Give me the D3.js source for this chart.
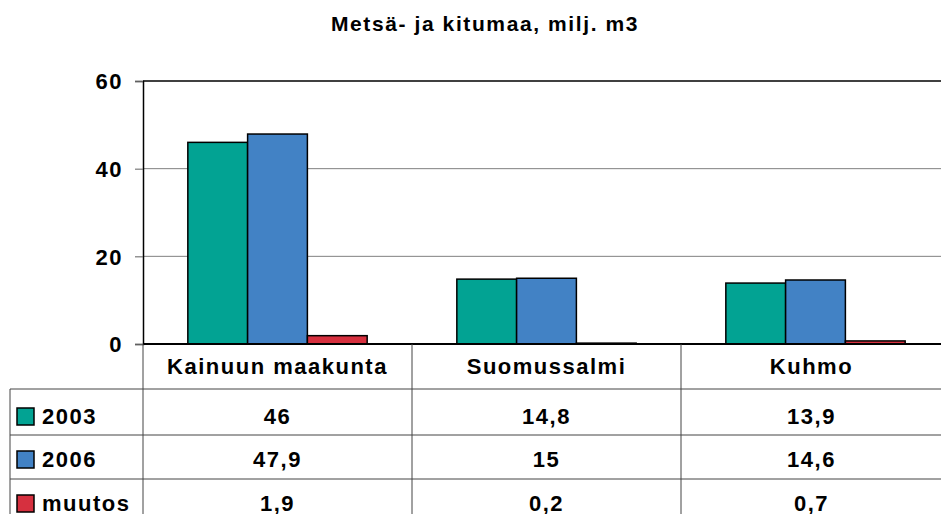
<!DOCTYPE html>
<html>
<head>
<meta charset="utf-8">
<script src="https://cdn.jsdelivr.net/npm/d3@7"></script>
<style>
  body { margin: 0; background: #fff; }
  svg text { font-family: "Liberation Sans", Arial, sans-serif; font-weight: bold; fill: #000; }
</style>
</head>
<body>
<div id="kuvio"></div>
<script>
const alueet = ["Kainuun maakunta", "Suomussalmi", "Kuhmo"];
const sarjat = ["2003", "2006", "muutos"];
const v2003 = [46, 14.8, 13.9];
const v2006 = [47.9, 15, 14.6];
const muutos = [1.9, 0.2, 0.7];
const arvoTekstit = [["46", "14,8", "13,9"], ["47,9", "15", "14,6"], ["1,9", "0,2", "0,7"]];
const tikit = [0, 20, 40, 60];
const värit = ["#02a393", "#4282c5", "#d6303f"];

const leveys = 941, korkeus = 514;
const ala = {vasen: 143, oikea: 950, ylä: 81, pohja: 344};

const svg = d3.select("#kuvio").append("svg")
  .attr("width", leveys).attr("height", korkeus);

const arvot = [v2003, v2006, muutos];

const x = d3.scaleBand().domain(alueet).range([ala.vasen, ala.oikea]).paddingInner(0).paddingOuter(0);
const xs = d3.scaleBand().domain(sarjat).range([0, x.bandwidth()]).paddingOuter(0.75).paddingInner(0);
const y = d3.scaleLinear().domain([0, 60]).range([ala.pohja, ala.ylä]);

function tyyli(t, koko, väli) {
  return t.style("font-size", koko + "px").style("letter-spacing", väli + "px");
}

tyyli(svg.append("text").attr("x", 485).attr("y", 31).attr("text-anchor", "middle"), 21, 1.6)
  .text("Metsä- ja kitumaa, milj. m3");

// ruudukko
svg.append("g").selectAll("line").data(tikit.filter(t => t > 0 && t < 60)).enter().append("line")
  .attr("x1", ala.vasen).attr("x2", leveys).attr("y1", d => y(d)).attr("y2", d => y(d))
  .attr("stroke", "#808080").attr("stroke-width", 1);
svg.append("line").attr("x1", ala.vasen).attr("x2", leveys).attr("y1", y(60)).attr("y2", y(60))
  .attr("stroke", "#000").attr("stroke-width", 1.5);

// y-akseli
const yAks = svg.append("g").attr("transform", `translate(${ala.vasen},0)`)
  .call(d3.axisLeft(y).tickValues(tikit).tickSize(8).tickPadding(12));
yAks.select(".domain").attr("stroke", "#000").attr("stroke-width", 1.5);
yAks.selectAll(".tick line").attr("stroke", "#606060");
yAks.selectAll(".tick text").attr("dy", "0.36em")
  .style("font-size", "22px").style("letter-spacing", "1.5px")
  .style("font-family", "Liberation Sans, Arial, sans-serif").attr("font-weight", "bold");

// pylväät
const ryhmä = svg.append("g").selectAll("g").data(alueet).enter().append("g")
  .attr("transform", d => `translate(${x(d)},0)`);
ryhmä.selectAll("rect").data((d, i) => sarjat.map((s, j) => ({s: s, v: arvot[j][i], c: värit[j]})))
  .enter().append("rect")
  .attr("x", d => xs(d.s)).attr("width", xs.bandwidth())
  .attr("y", d => y(d.v)).attr("height", d => y(0) - y(d.v))
  .attr("fill", d => d.c).attr("stroke", "#000").attr("stroke-width", 1.5);

svg.append("line").attr("x1", ala.vasen).attr("x2", leveys).attr("y1", y(0)).attr("y2", y(0))
  .attr("stroke", "#000").attr("stroke-width", 2);

// taulukko
const rivit = [389, 435, 479, 530];
const perusviiva = [424, 467, 511];
const taulu = svg.append("g");
taulu.selectAll("line.vaaka").data(rivit.slice(0, 3)).enter().append("line")
  .attr("x1", 10).attr("x2", leveys).attr("y1", d => d).attr("y2", d => d)
  .attr("stroke", "#444").attr("stroke-width", 1);
taulu.append("line").attr("x1", 10).attr("x2", 10).attr("y1", rivit[0]).attr("y2", korkeus)
  .attr("stroke", "#444");
taulu.selectAll("line.pysty").data(alueet).enter().append("line")
  .attr("x1", d => x(d)).attr("x2", d => x(d)).attr("y1", ala.pohja).attr("y2", korkeus)
  .attr("stroke", "#444");

const keski = d => x(d) + x.bandwidth() / 2 - (d === "Kuhmo" ? 4 : 0);

tyyli(taulu.selectAll("text.alue").data(alueet).enter().append("text")
  .attr("x", keski).attr("y", 374).attr("text-anchor", "middle"), 22, 1.5)
  .text(d => d);

sarjat.forEach((s, j) => {
  taulu.append("rect").attr("x", 17).attr("y", perusviiva[j] - 16).attr("width", 17).attr("height", 17)
    .attr("fill", värit[j]).attr("stroke", "#000").attr("stroke-width", 1.5);
  tyyli(taulu.append("text").attr("x", 42).attr("y", perusviiva[j]), 22, 1.5).text(s);
  tyyli(taulu.selectAll(null).data(alueet).enter().append("text")
    .attr("x", keski).attr("y", perusviiva[j]).attr("text-anchor", "middle"), 22, 1.5)
    .text((d, i) => arvoTekstit[j][i]);
});
</script>
</body>
</html>
